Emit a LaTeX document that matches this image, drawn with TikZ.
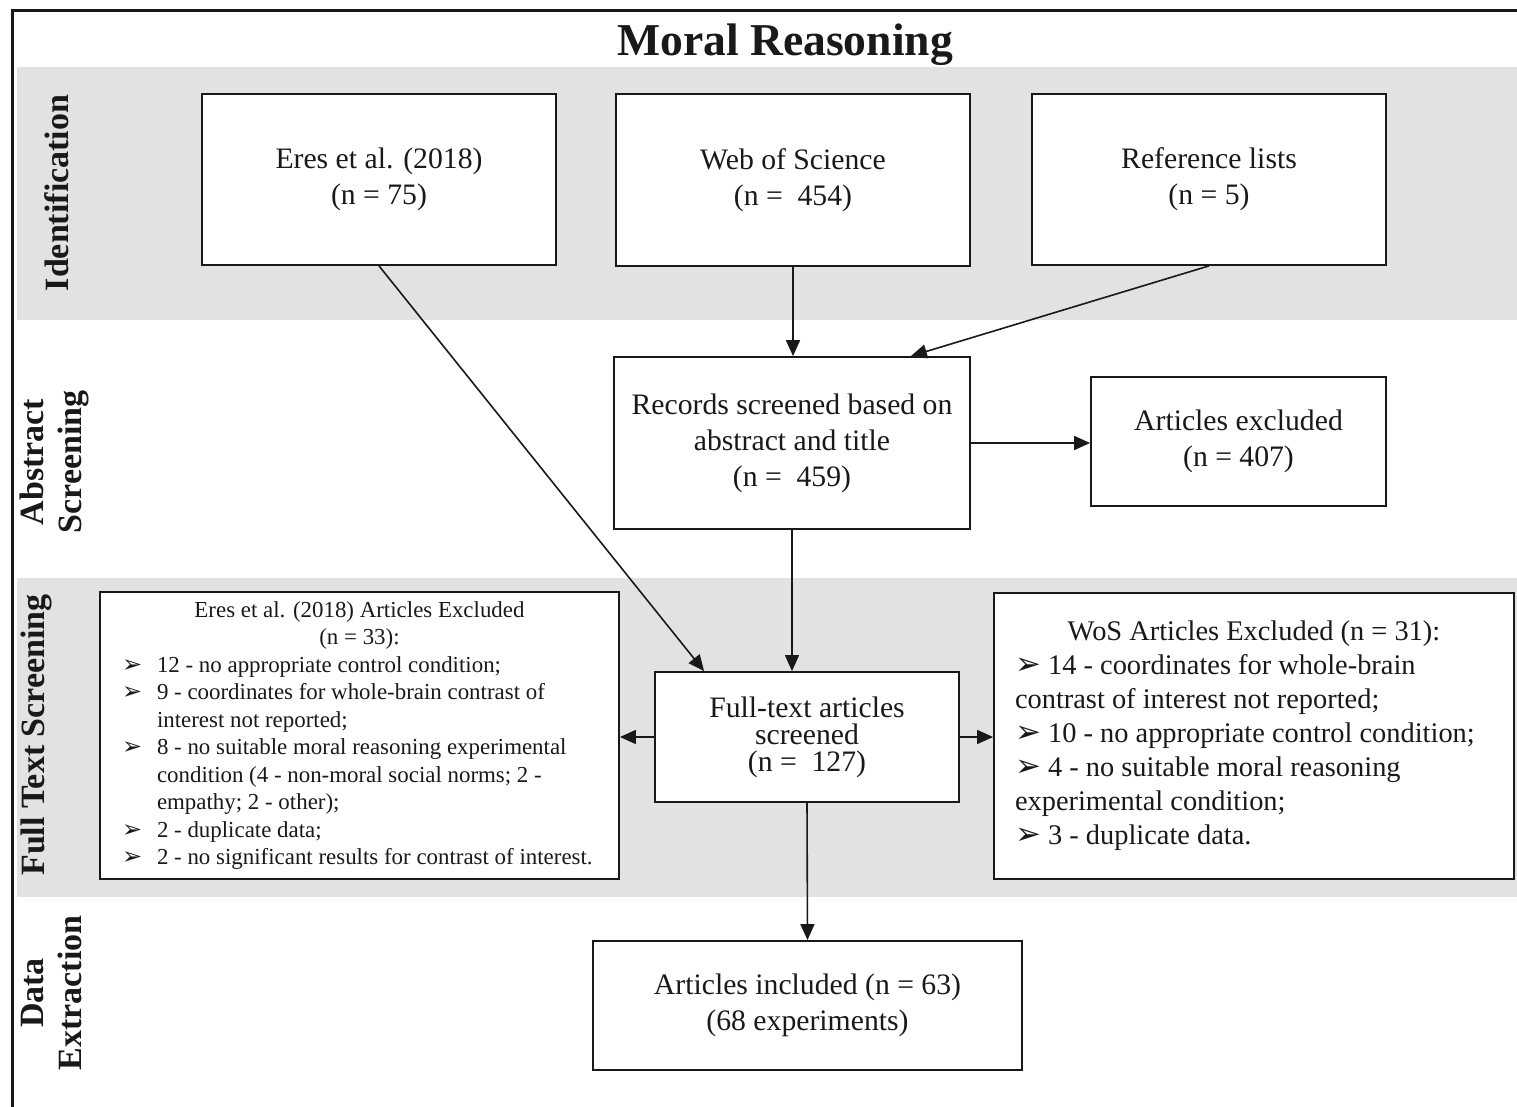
\documentclass[tikz,border=0pt]{standalone}
\usepackage{fontspec}
\setmainfont{Liberation Serif}
\newfontfamily\symfont{DejaVu Sans}
\usetikzlibrary{arrows.meta,calc}
\definecolor{bandgray}{RGB}{227,225,226}
\definecolor{ink}{RGB}{25,25,25}

% arrow-head bullets used in the exclusion lists
\newcommand\smallbul{\makebox[36pt][l]{\hspace{1pt}\smash{\symfont\fontsize{24}{24}\selectfont ➢}}}
\newcommand\bigbul{\smash{\symfont\fontsize{31}{31}\selectfont ➢}\ }

\begin{document}
\begin{tikzpicture}[x=1pt,y=-1pt,
  box/.style={draw=ink, line width=1.8pt, fill=white, align=center, inner sep=0pt, text=ink},
  main/.style={font=\fontsize{29.7}{36}\selectfont},
  arr/.style={draw=ink, line width=1.6pt, -{Triangle[length=16pt,width=14pt]}},
  stage/.style={rotate=90, align=center, text=ink, font=\bfseries\fontsize{34}{38}\selectfont},
]
\useasboundingbox (0,0) rectangle (1517,1107);

% stage bands and frame
\fill[bandgray] (17,67) rectangle (1517,320);
\fill[bandgray] (17,578) rectangle (1517,897);
\draw[ink, line width=3pt] (12,1107) -- (12,11) -- (1517,11);

\node[text=ink, font=\bfseries\fontsize{45.6}{50}\selectfont] (title) at (785,45) {Moral Reasoning};

% stage labels
\node[stage] (sid) at (57,193) {Identification};
\node[stage] (sas) at (54,462) {Abstract\\Screening};
\node[stage] (sft) at (36,735) {Full Text Screening};
\node[stage] (sde) at (52,993) {Data\\Extraction};

% identification
\node[box, main, minimum width=354pt, minimum height=171pt] (eres) at (379,179.5) {Eres et al. (2018)\\(n = 75)};
\node[box, main, minimum width=354pt, minimum height=172pt] (wos) at (793,180) {Web of Science\\(n = \ 454)};
\node[box, main, minimum width=354pt, minimum height=171pt] (ref) at (1209,179.5) {Reference lists\\(n = 5)};

% abstract screening
\node[box, main, minimum width=356pt, minimum height=172pt] (rec) at (792,443) {Records screened based on\\abstract and title\\(n = \ 459)};
\node[box, main, minimum width=295pt, minimum height=129pt] (axc) at (1238.5,441.5) {Articles excluded\\(n = 407)};

% full text screening
\node[box, font=\fontsize{29.7}{27}\selectfont, minimum width=304pt, minimum height=130pt] (ft) at (807,737) {Full-text articles\\screened\\(n = \ 127)};

\node[box, align=left, minimum width=519pt, minimum height=287pt,
      font=\fontsize{22.9}{27.5}\selectfont] (eresx) at (359.5,735.5) {%
\makebox[477pt][c]{Eres et al. (2018) Articles Excluded}\\
\makebox[477pt][c]{(n = 33):}\\
\smallbul 12 - no appropriate control condition;\\
\smallbul 9 - coordinates for whole-brain contrast of\\
\hspace*{36pt}interest not reported;\\
\smallbul 8 - no suitable moral reasoning experimental\\
\hspace*{36pt}condition (4 - non-moral social norms; 2 -\\
\hspace*{36pt}empathy; 2 - other);\\
\smallbul 2 - duplicate data;\\
\smallbul 2 - no significant results for contrast of interest.};

\node[box, align=left, minimum width=520pt, minimum height=286pt,
      font=\fontsize{28.4}{34}\selectfont] (wosx) at (1254,736) {%
\makebox[478pt][c]{WoS Articles Excluded (n = 31):}\\
\bigbul 14 - coordinates for whole-brain\\
contrast of interest not reported;\\
\bigbul 10 - no appropriate control condition;\\
\bigbul 4 - no suitable moral reasoning\\
experimental condition;\\
\bigbul 3 - duplicate data.};

% data extraction
\node[box, main, minimum width=429pt, minimum height=129pt] (inc) at (807.5,1005.5) {Articles included (n = 63)\\(68 experiments)};

% connectors
\draw[arr] (eres.south) -- ($(ft.north west)+(50,0)$);
\draw[arr] (wos.south) -- (wos.south |- rec.north);
\draw[arr] (ref.south) -- ($(rec.north east)+(-60,0)$);
\draw[arr] (rec.east) -- (rec.east -| axc.west);
\draw[arr] (rec.south) -- (rec.south |- ft.north);
\draw[arr] (ft.west) -- (ft.west -| eresx.east);
\draw[arr] (ft.east) -- (ft.east -| wosx.west);
\draw[arr] (ft.south) -- (inc.north);
\end{tikzpicture}
\end{document}
